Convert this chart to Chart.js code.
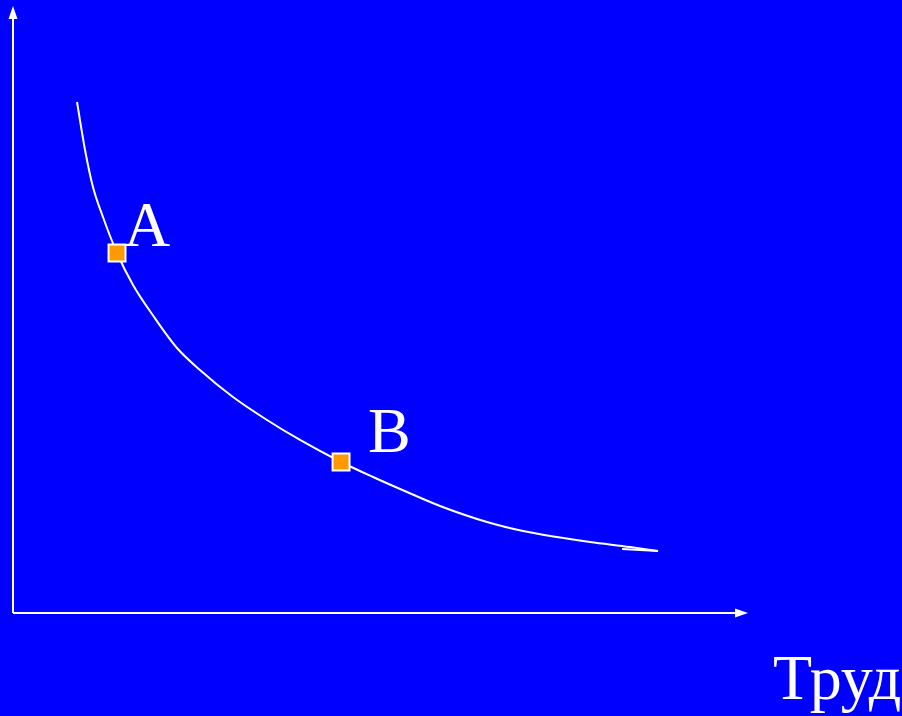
<!DOCTYPE html>
<html>
<head>
<meta charset="utf-8">
<script src="https://cdn.jsdelivr.net/npm/chart.js@4/dist/chart.umd.min.js"></script>
<style>
    body { margin: 0; background: #0000ff; }
    #wrap { width: 902px; height: 716px; position: relative; }
</style>
</head>
<body>
<div id="wrap"><canvas id="ct-chart"></canvas></div>
<script>
"use strict";

// isoquant (labour on x, capital on y)
const curveX = [0.871, 0.980, 1.088, 1.224, 1.415, 1.633, 1.905, 2.231, 2.544, 2.993, 3.456, 3.905, 4.463, 4.898, 5.361, 5.810, 6.449, 6.939, 7.401, 7.850, 8.395, 8.776];
const curveY = [8.446, 7.653, 7.041, 6.545, 5.950, 5.421, 4.917, 4.380, 4.017, 3.570, 3.190, 2.860, 2.496, 2.248, 2.000, 1.769, 1.504, 1.355, 1.256, 1.174, 1.091, 1.025];

// little stroke doubling back at the end of the curve
const hookX = [8.776, 8.286];
const hookY = [1.025, 1.058];

// points A and B
const pointNames = ["A", "B"];
const pointX = [1.415, 4.463];
const pointY = [5.950, 2.496];

// text labels
const labelTexts = ["A", "B", "Труд"];
const labelX = [1.510, 4.830, 10.340];
const labelY = [6.066, 2.661, -1.421];

// axis ends
const axisEndX = 10.0;
const axisEndY = 10.033;

const arrowPlugin = {
    id: 'arrows',
    afterDatasetsDraw(chart) {
        const ctx = chart.ctx;
        const xs = chart.scales.x, ys = chart.scales.y;
        const ox = xs.getPixelForValue(0), oy = ys.getPixelForValue(0);
        const tx = xs.getPixelForValue(axisEndX), ty = ys.getPixelForValue(axisEndY);
        ctx.save();
        ctx.fillStyle = '#ffffff';
        // up arrow
        ctx.beginPath();
        ctx.moveTo(ox, ty);
        ctx.lineTo(ox - 4.5, ty + 13);
        ctx.lineTo(ox + 4.5, ty + 13);
        ctx.closePath();
        ctx.fill();
        // right arrow
        ctx.beginPath();
        ctx.moveTo(tx, oy);
        ctx.lineTo(tx - 13, oy - 4.5);
        ctx.lineTo(tx - 13, oy + 4.5);
        ctx.closePath();
        ctx.fill();

        ctx.font = '64px "Liberation Serif", "DejaVu Serif", serif';
        ctx.textBaseline = 'alphabetic';
        ctx.textAlign = 'left';
        labelTexts.forEach((t, i) => {
            ctx.fillText(t, xs.getPixelForValue(labelX[i]), ys.getPixelForValue(labelY[i]));
        });
        ctx.restore();
    }
};

const ctx = document.getElementById('ct-chart').getContext('2d');

new Chart(ctx, {
    type: 'scatter',
    data: {
        datasets: [
            {
                label: 'points',
                order: 0,
                data: pointX.map((x, i) => ({ x: x, y: pointY[i], name: pointNames[i] })),
                pointStyle: 'rect',
                pointRadius: 12,
                backgroundColor: '#ff9900',
                borderColor: '#ffffff',
                borderWidth: 2
            },
            {
                label: 'axis-y',
                order: 1,
                data: [{ x: 0, y: 0 }, { x: 0, y: axisEndY - 0.15 }],
                showLine: true,
                borderColor: '#ffffff',
                borderWidth: 2,
                pointRadius: 0
            },
            {
                label: 'axis-x',
                order: 1,
                data: [{ x: 0, y: 0 }, { x: axisEndX - 0.12, y: 0 }],
                showLine: true,
                borderColor: '#ffffff',
                borderWidth: 2,
                pointRadius: 0
            },
            {
                label: 'isoquant',
                order: 1,
                data: curveX.map((x, i) => ({ x: x, y: curveY[i] })),
                showLine: true,
                cubicInterpolationMode: 'monotone',
                borderColor: '#ffffff',
                borderWidth: 2,
                pointRadius: 0
            },
            {
                label: 'hook',
                order: 1,
                data: hookX.map((x, i) => ({ x: x, y: hookY[i] })),
                showLine: true,
                borderColor: '#ffffff',
                borderWidth: 2,
                pointRadius: 0
            }
        ]
    },
    options: {
        responsive: true,
        maintainAspectRatio: false,
        animation: false,
        layout: { padding: 0, autoPadding: false },
        scales: {
            x: { type: 'linear', min: -0.1769, max: 12.095, display: false },
            y: { type: 'linear', min: -1.7025, max: 10.132, display: false }
        },
        plugins: {
            legend: { display: false },
            tooltip: { enabled: false }
        }
    },
    plugins: [arrowPlugin]
});
</script>
</body>
</html>
